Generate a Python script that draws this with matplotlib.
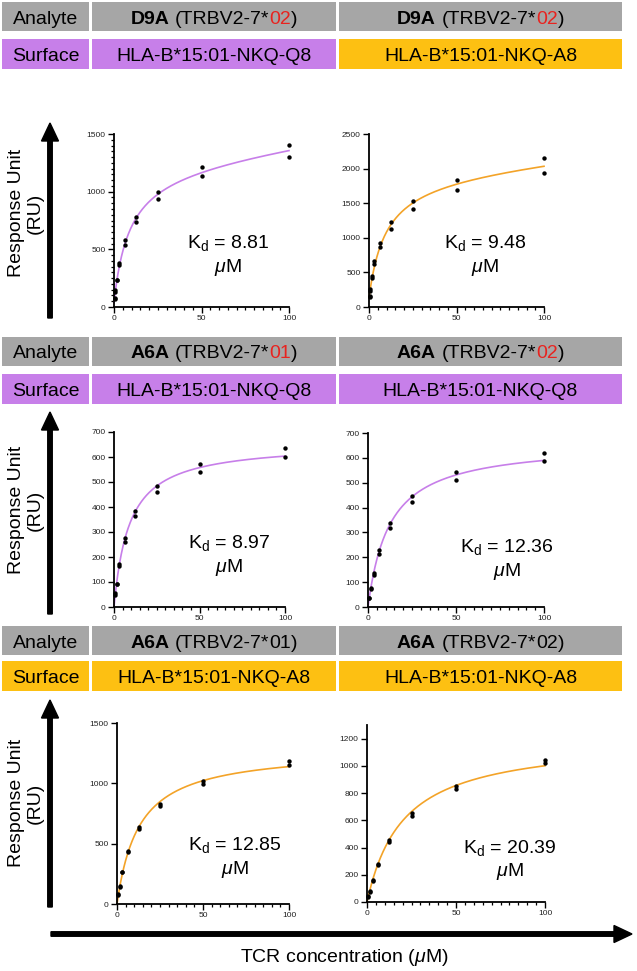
import matplotlib
matplotlib.use('Agg')
import matplotlib.pyplot as plt
import numpy as np
from matplotlib.patches import Rectangle, FancyArrow
from matplotlib.ticker import MultipleLocator

plt.rcParams['font.family'] = ['Liberation Sans', 'DejaVu Sans']
plt.rcParams['mathtext.fontset'] = 'custom'
plt.rcParams['mathtext.rm'] = 'Liberation Sans'
plt.rcParams['mathtext.it'] = 'Liberation Sans:italic'

# ---------------- data ----------------
conc9 = [100, 50, 25, 12.5, 6.25, 3.125, 1.5625, 0.78125, 0.390625]
conc8 = [100, 50, 25, 12.5, 6.25, 3.125, 1.5625, 0.78125]

p1_rep1 = [1405, 1211, 994, 777, 578, 381, 237, 145, 75]
p1_rep2 = [1303, 1139, 936, 734, 540, 361, 231, 132, 68]
p2_rep1 = [2148, 1840, 1527, 1223, 925, 665, 443, 260, 154]
p2_rep2 = [1936, 1696, 1416, 1132, 862, 617, 419, 236, 145]
p3_rep1 = [636, 574, 486, 386, 275, 172, 94, 55]
p3_rep2 = [602, 542, 462, 363, 260, 164, 92, 49]
p4_rep1 = [621, 544, 446, 338, 228, 136, 75, 37]
p4_rep2 = [586, 512, 421, 319, 215, 130, 72, 35]
p5_rep1 = [1184, 1023, 832, 635, 438, 269, 150, 80]
p5_rep2 = [1148, 993, 810, 621, 430, 263, 141, 75]
p6_rep1 = [1041, 855, 655, 457, 281, 159, 83, 42]
p6_rep2 = [1019, 833, 635, 442, 274, 152, 76, 37]

kd_values = [8.81, 9.48, 8.97, 12.36, 12.85, 20.39]
analytes = ["D9A", "D9A", "A6A", "A6A", "A6A", "A6A"]
alleles = ["02", "02", "01", "02", "01", "02"]
allele_red = [True, True, True, True, False, False]
surfaces = ["HLA-B*15:01-NKQ-Q8", "HLA-B*15:01-NKQ-A8",
            "HLA-B*15:01-NKQ-Q8", "HLA-B*15:01-NKQ-Q8",
            "HLA-B*15:01-NKQ-A8", "HLA-B*15:01-NKQ-A8"]
y_tops = [1500, 2500, 700, 700, 1500, 1300]
y_major = [500, 500, 100, 100, 500, 200]
y_tick_max = [1500, 2500, 700, 700, 1500, 1200]
nonspecific = [True, True, False, False, False, False]

# ---------------- styles ----------------
W, H = 637, 971
PURPLE = '#c77fe9'
ORANGE_BOX = '#fdc012'
ORANGE_LINE = '#f3a328'
GRAY = '#a6a6a6'
RED = '#e8231f'
FS = 14

fig = plt.figure(figsize=(W / 100, H / 100), dpi=100)
ov = fig.add_axes([0, 0, 1, 1])
ov.set_xlim(0, W)
ov.set_ylim(H, 0)
ov.axis('off')
renderer = fig.canvas.get_renderer()


def box(x0, x1, y0, y1, color):
    ov.add_patch(Rectangle((x0, y0), x1 - x0, y1 - y0, facecolor=color,
                           edgecolor='none', zorder=1))


def seg_text(cx, cy, segs, fs=FS):
    objs, widths = [], []
    for s, weight, color in segs:
        if s == ' ':
            objs.append(None)
            widths.append(fs * 100 / 72 * 0.278)
            continue
        t = ov.text(0, cy + fs * 100 / 72 * 0.36, s, fontsize=fs,
                    fontweight=weight, color=color, ha='left',
                    va='baseline', zorder=3)
        objs.append(t)
        widths.append(t.get_window_extent(renderer).width)
    x = cx - sum(widths) / 2
    for t, w in zip(objs, widths):
        if t is not None:
            t.set_x(x)
        x += w


# header layout (pixels)
col_x = [(2, 89), (92, 336), (339, 622)]
rows_y = [((2, 31), (39, 69)), ((337, 366), (374, 404)), ((626, 655), (661, 691))]
surface_label_color = [PURPLE, PURPLE, ORANGE_BOX]

for r, ((g0, g1), (s0, s1)) in enumerate(rows_y):
    box(col_x[0][0], col_x[0][1], g0, g1, GRAY)
    seg_text((col_x[0][0] + col_x[0][1]) / 2, (g0 + g1) / 2,
             [("Analyte", 'normal', 'black')])
    box(col_x[0][0], col_x[0][1], s0, s1, surface_label_color[r])
    seg_text((col_x[0][0] + col_x[0][1]) / 2, (s0 + s1) / 2,
             [("Surface", 'normal', 'black')])
    for c in range(2):
        i = r * 2 + c
        x0, x1 = col_x[c + 1]
        box(x0, x1, g0, g1, GRAY)
        seg_text((x0 + x1) / 2, (g0 + g1) / 2,
                 [(analytes[i], 'bold', 'black'), (' ', None, None),
                  ("(TRBV2-7*", 'normal', 'black'),
                  (alleles[i], 'normal', RED if allele_red[i] else 'black'),
                  (")", 'normal', 'black')])
        scol = PURPLE if surfaces[i].endswith('Q8') else ORANGE_BOX
        box(x0, x1, s0, s1, scol)
        seg_text((x0 + x1) / 2, (s0 + s1) / 2,
                 [(surfaces[i], 'normal', 'black')])

# panels (pixel boxes: x0, x1, y_top, y_bottom)
panel_px = [(114, 289, 134, 307), (369, 544, 134, 307),
            (114, 285, 432, 607), (368, 544, 433, 607),
            (117, 289, 723, 904), (367, 545, 725, 902)]
panel_data = [(conc9, p1_rep1, p1_rep2), (conc9, p2_rep1, p2_rep2),
              (conc8, p3_rep1, p3_rep2), (conc8, p4_rep1, p4_rep2),
              (conc8, p5_rep1, p5_rep2), (conc8, p6_rep1, p6_rep2)]
kd_text_pos = [(228, 243), (485, 243), (229, 543), (507, 547),
               (235, 845), (510, 848)]

for i, (x0, x1, yt, yb) in enumerate(panel_px):
    ax = fig.add_axes([x0 / W, 1 - yb / H, (x1 - x0) / W, (yb - yt) / H])
    ax.set_facecolor('none')
    conc, r1, r2 = panel_data[i]
    xs = np.array(conc + conc, dtype=float)
    ys = np.array(r1 + r2, dtype=float)
    kd = kd_values[i]
    if nonspecific[i]:
        A = np.column_stack([xs / (kd + xs), xs, np.ones_like(xs)])
    else:
        A = np.column_stack([xs / (kd + xs)])
    coef, *_ = np.linalg.lstsq(A, ys, rcond=None)
    xf = np.linspace(0, 100, 400)
    if nonspecific[i]:
        yf = coef[0] * xf / (kd + xf) + coef[1] * xf + coef[2]
    else:
        yf = coef[0] * xf / (kd + xf)
    lc = PURPLE if surfaces[i].endswith('Q8') else ORANGE_LINE
    ax.plot(xf, yf, color=lc, lw=1.2, zorder=2, clip_on=False)
    ax.scatter(xs, ys, s=10, color='black', linewidths=0, zorder=3,
               clip_on=False)
    ax.set_xlim(0, 100)
    ax.set_ylim(0, y_tops[i])
    for s in ['top', 'right']:
        ax.spines[s].set_visible(False)
    for s in ['left', 'bottom']:
        ax.spines[s].set_linewidth(1.3)
    ax.set_xticks([0, 50, 100])
    ax.xaxis.set_minor_locator(MultipleLocator(5))
    ax.set_yticks(np.arange(0, y_tick_max[i] + 1, y_major[i]))
    if i == 0:
        ax.yaxis.set_minor_locator(MultipleLocator(50))
    ax.tick_params(which='major', length=4, width=1, labelsize=6, pad=2,
                   colors='black', labelcolor='#222222')
    ax.tick_params(which='minor', length=2.5, width=0.9)
    kx, ky = kd_text_pos[i]
    ov.text(kx, ky, "K$_\\mathrm{d}$ = " + f"{kd:.2f}", fontsize=FS,
            ha='center', va='center')
    ov.text(kx, ky + 24, "$\\mu$M", fontsize=FS, ha='center', va='center')

# y-axis arrows and labels
arrow_spans = [(318, 123), (614, 412), (907, 700)]
label_centers = [213, 510, 803]
for (yb, yt), yc in zip(arrow_spans, label_centers):
    ov.add_patch(FancyArrow(50, yb, 0, yt - yb, width=4.5, head_width=17,
                            head_length=18, length_includes_head=True,
                            color='black', zorder=2))
    ov.text(26, yc, "Response Unit\n(RU)", rotation=90, fontsize=FS,
            ha='center', va='center', multialignment='center',
            linespacing=1.1)

# x-axis arrow and label
ov.add_patch(FancyArrow(51, 934, 632 - 51, 0, width=4.5, head_width=17,
                        head_length=18, length_includes_head=True,
                        color='black', zorder=2))
ov.text(344, 958, "TCR concentration ($\\mu$M)", fontsize=FS, ha='center',
        va='center')

fig.savefig('out.png', dpi=100)
